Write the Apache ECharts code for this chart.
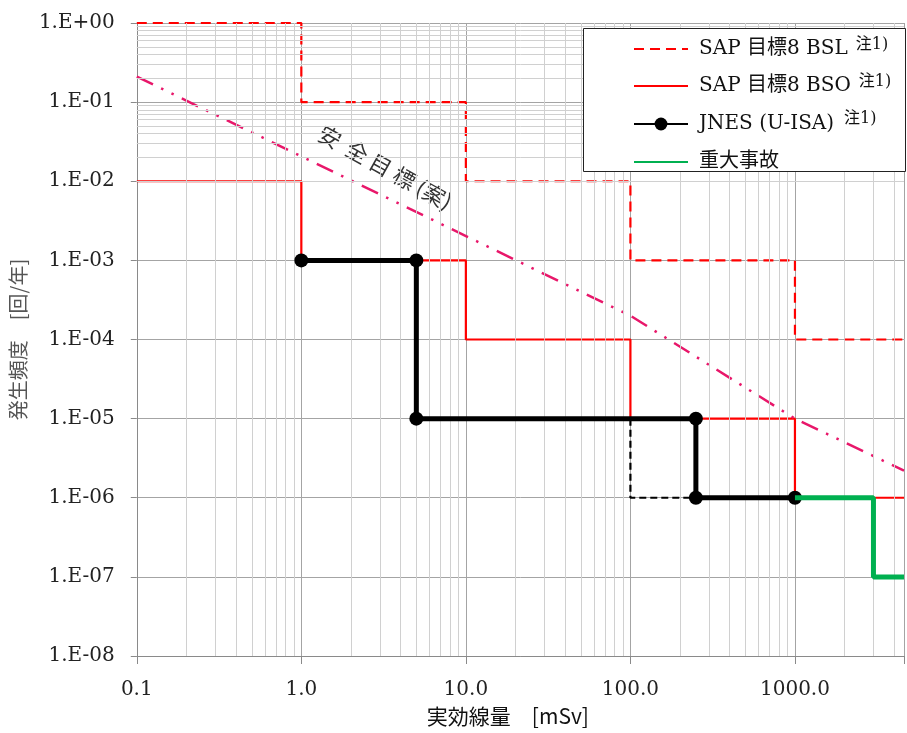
<!DOCTYPE html>
<html>
<head>
<meta charset="utf-8">
<script src="https://cdn.jsdelivr.net/npm/echarts@6/dist/echarts.min.js"></script>
<style>
html,body{margin:0;padding:0;background:#fff;}
#chart{width:907px;height:733px;}
</style>
</head>
<body>
<div id="chart"></div>
<script>
// ---- data ----
const X_MIN = 0.1;
const X_MAX = 4600;
const Y_MIN = 1e-8;
const Y_MAX = 1;

const xTickLabels = ['0.1', '1.0', '10.0', '100.0', '1000.0'];
const yTickLabels = ['1.E+00','1.E-01','1.E-02','1.E-03','1.E-04','1.E-05','1.E-06','1.E-07','1.E-08'];

// SAP 目標8 BSL (dashed red)
const bslX = [0.1, 1, 1, 10, 10, 100, 100, 1000, 1000, 4600];
const bslY = [1, 1, 0.1, 0.1, 0.01, 0.01, 1e-3, 1e-3, 1e-4, 1e-4];
// SAP 目標8 BSO (solid red)
const bsoX = [0.1, 1, 1, 10, 10, 100, 100, 1000, 1000, 4600];
const bsoY = [1e-2, 1e-2, 1e-3, 1e-3, 1e-4, 1e-4, 1e-5, 1e-5, 1e-6, 1e-6];
// JNES (U-ISA)
const jnesX = [1, 5, 5, 250, 250, 1000];
const jnesY = [1e-3, 1e-3, 1e-5, 1e-5, 1e-6, 1e-6];
// JNES dashed branch
const jnesDashX = [100, 100, 250];
const jnesDashY = [1e-5, 1e-6, 1e-6];
// 重大事故
const saX = [1000, 3000, 3000, 4600];
const saY = [1e-6, 1e-6, 1e-7, 1e-7];
// 安全目標(案)
const safeX = [0.1, 100, 1000, 4600];
const safeY = [0.21, 2e-4, 1e-5, 2.2e-6];

const legendNames = ['SAP 目標8 BSL', 'SAP 目標8 BSO', 'JNES (U-ISA)', '重大事故'];
const legendNotes = ['注1)', '注1)', '注1)', ''];
const legendNoteStyle = ['s', 's', 't', ''];
const legendHasMarker = [false, false, true, false];

function zip(xs, ys) { return xs.map((x, i) => [x, ys[i]]); }

// minor grid positions (2..9 x 10^k)
const xMinor = [], yMinor = [];
for (let k = -1; k <= 3; k++) for (let m = 2; m <= 9; m++) { const v = m * Math.pow(10, k); if (v < X_MAX) xMinor.push(v); }
for (let k = -8; k <= -1; k++) for (let m = 2; m <= 9; m++) yMinor.push(m * Math.pow(10, k));

const SERIF = "'DejaVu Serif','Noto Sans CJK JP',serif";
const CJK = "'Noto Sans CJK JP',sans-serif";

const chart = echarts.init(document.getElementById('chart'));

const noteRich = {
  n: { fontSize: 20, fontFamily: SERIF, color: '#111', lineHeight: 24, padding: [0, 0, 0, 6] },
  s: { fontSize: 16, fontFamily: SERIF, color: '#111', lineHeight: 16, padding: [0, 0, 8, 8] },
  t: { fontSize: 16, fontFamily: SERIF, color: '#111', lineHeight: 14, padding: [0, 0, 10, 10] }
};

const option = {
  animation: false,
  backgroundColor: '#fff',
  grid: { left: 133, right: 0, top: 23, bottom: 77, containLabel: false },
  xAxis: {
    type: 'log', logBase: 10, min: X_MIN, max: X_MAX, interval: 1,
    name: '実効線量　[mSv]', nameLocation: 'middle', nameGap: 50,
    nameTextStyle: { fontFamily: CJK, fontSize: 21, color: '#111', padding: [0, 25, 0, 0] },
    axisLine: { show: true, lineStyle: { color: '#8a8a8a', width: 1 } },
    axisTick: { show: true, length: 8, lineStyle: { color: '#8a8a8a' } },
    axisLabel: {
      margin: 24, fontFamily: SERIF, fontSize: 20, color: '#222',
      formatter: function (v) {
        const e = Math.round(Math.log10(v));
        if (Math.abs(Math.log10(v) - e) > 1e-6) return '';
        return xTickLabels[e + 1] || '';
      }
    },
    splitLine: { show: true, lineStyle: { color: '#a4a4a4', width: 1 } }
  },
  yAxis: {
    type: 'log', logBase: 10, min: Y_MIN, max: Y_MAX, interval: 1,
    name: '発生頻度　[回/年]', nameLocation: 'middle', nameGap: 98, nameRotate: 90,
    nameTextStyle: { fontFamily: CJK, fontSize: 20, color: '#555' },
    axisLine: { show: true, lineStyle: { color: '#8a8a8a', width: 1 } },
    axisTick: { show: true, length: 6, lineStyle: { color: '#8a8a8a' } },
    axisLabel: {
      margin: 22, fontFamily: SERIF, fontSize: 20, color: '#222',
      formatter: function (v) {
        const e = Math.round(Math.log10(v));
        return yTickLabels[-e] || '';
      }
    },
    splitLine: { show: true, lineStyle: { color: '#a4a4a4', width: 1 } }
  },
  legend: {
    orient: 'vertical', left: 583, top: 28, z: 10,
    padding: [9, 10, 8, 50], itemGap: 13, itemWidth: 54, itemHeight: 16,
    backgroundColor: 'transparent',
    data: legendNames.map((n, i) => legendHasMarker[i] ? { name: n } : { name: n, itemStyle: { opacity: 0 } }),
    formatter: function (name) {
      const i = legendNames.indexOf(name);
      return legendNotes[i] ? '{n|' + name + '}{' + legendNoteStyle[i] + '|' + legendNotes[i] + '}' : '{n|' + name + '}';
    },
    textStyle: { rich: noteRich, fontFamily: SERIF, fontSize: 20, lineHeight: 24 }
  },
  graphic: [
    { type: 'rect', z: 9, shape: { x: 583.5, y: 28.5, width: 322, height: 143 },
      style: { fill: '#fff', stroke: '#222', lineWidth: 1 } },
    { type: 'group', x: 330, y: 137, rotation: -29 * Math.PI / 180, z: 8,
      children: [
        { type: 'text', x: 0, y: 0, style: { text: '安', font: "22px 'Noto Sans CJK JP'", fill: '#333', align: 'center', verticalAlign: 'middle' } },
        { type: 'text', x: 31, y: 0, style: { text: '全', font: "22px 'Noto Sans CJK JP'", fill: '#333', align: 'center', verticalAlign: 'middle' } },
        { type: 'text', x: 58, y: 0, style: { text: '目', font: "22px 'Noto Sans CJK JP'", fill: '#333', align: 'center', verticalAlign: 'middle' } },
        { type: 'text', x: 85, y: 0, style: { text: '標', font: "22px 'Noto Sans CJK JP'", fill: '#333', align: 'center', verticalAlign: 'middle' } },
        { type: 'text', x: 119, y: 0, style: { text: '(案)', font: "22px 'Noto Sans CJK JP'", fill: '#333', align: 'center', verticalAlign: 'middle' } }
      ] }
  ],
  series: [
    {
      name: '_grid', type: 'line', data: [], silent: true, z: 1,
      markLine: {
        silent: true, symbol: 'none', label: { show: false }, animation: false,
        lineStyle: { color: '#d0d0d0', width: 1, type: 'solid' },
        emphasis: { disabled: true },
        data: xMinor.map(v => ({ xAxis: v })).concat(yMinor.map(v => ({ yAxis: v })))
      }
    },
    {
      name: legendNames[0], type: 'line', data: zip(bslX, bslY), symbol: 'none', z: 3,
      lineStyle: { color: '#ff0000', width: 2.2, type: [10, 6] }, itemStyle: { color: '#ff0000' }
    },
    {
      name: legendNames[1], type: 'line', data: zip(bsoX, bsoY), symbol: 'none', z: 3,
      lineStyle: { color: '#ff0000', width: 2.2 }, itemStyle: { color: '#ff0000' }
    },
    {
      name: '安全目標(案)', type: 'line', data: zip(safeX, safeY), symbol: 'none', z: 3,
      lineStyle: { color: '#e8176a', width: 2.5, type: [18, 9, 2.5, 9, 2.5, 9] }
    },
    {
      name: '_jnesDash', type: 'line', data: zip(jnesDashX, jnesDashY), symbol: 'none', z: 4,
      lineStyle: { color: '#000', width: 2.2, type: [7, 4] }
    },
    {
      name: legendNames[2], type: 'line', data: zip(jnesX, jnesY), z: 5,
      symbol: 'circle', symbolSize: 14, showSymbol: true,
      lineStyle: { color: '#000', width: 5 }, itemStyle: { color: '#000' }
    },
    {
      name: legendNames[3], type: 'line', data: zip(saX, saY), symbol: 'none', z: 6,
      lineStyle: { color: '#00b050', width: 5 }, itemStyle: { color: '#00b050' }
    }
  ]
};
chart.setOption(option);
</script>
</body>
</html>
